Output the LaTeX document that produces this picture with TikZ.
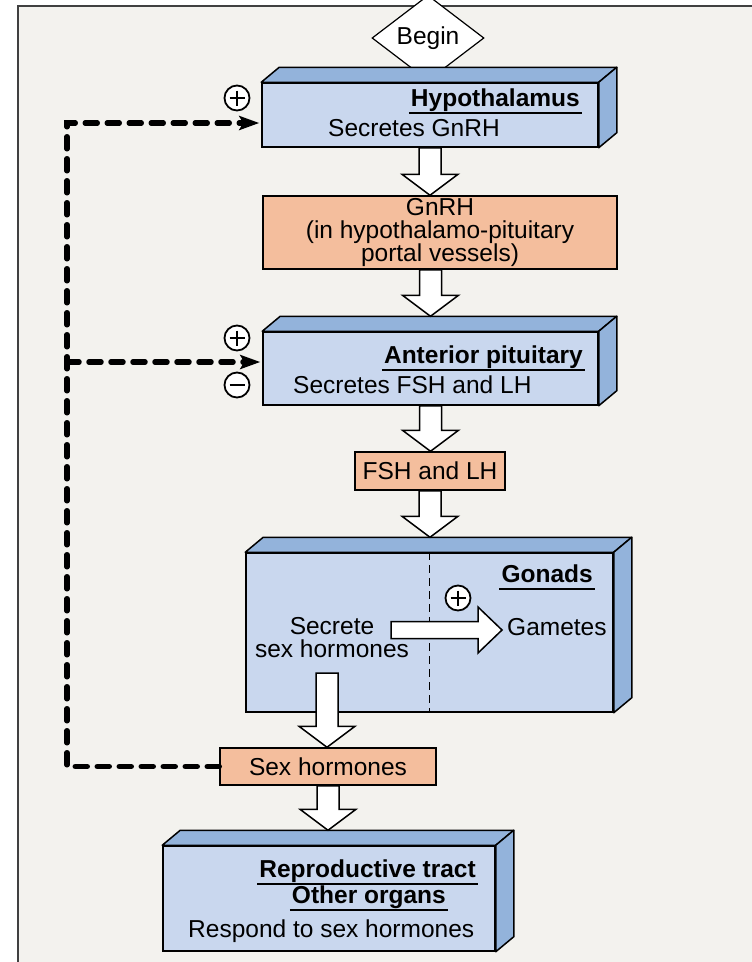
\documentclass[tikz,border=0pt]{standalone}
\usepackage{fontspec}
\setmainfont{Liberation Sans}
\usetikzlibrary{calc,shapes.geometric,arrows.meta}
\definecolor{paper}{HTML}{F3F2EE}
\definecolor{slabfront}{HTML}{C9D7EE}
\definecolor{slabside}{HTML}{93B3DB}
\definecolor{peach}{HTML}{F4BE9D}
\newcommand{\bodyfont}{\fontsize{24.5}{23}\selectfont}
\tikzset{ box_style/.style = { rectangle % front of a slab
        , draw
        , line width = 1.5pt
        , fill = slabfront
        , inner sep = 0pt
        }
        , face_style/.style = { draw % top and side of a slab
        , line width = 1.5pt
        , fill = slabside
        , line join = round
        }
        , hormone_style/.style = { rectangle % hormone on its way
        , draw
        , line width = 1.5pt
        , fill = peach
        , inner sep = 0pt
        , align = center
        }
        , title_style/.style = { font = \bodyfont\bfseries % underlined heading
        , anchor = base east
        , inner xsep = 2pt
        , inner ysep = 0pt
        , append after command = {([yshift=-7pt]\tikzlastnode.base west) edge[line width=1.5pt] ([yshift=-7pt]\tikzlastnode.base east)}
        }
        , plus_style/.style = { circle % stimulates
        , draw
        , line width = 1.8pt
        , fill = white
        , minimum size = 25pt
        , inner sep = 0pt
        , path picture = {\draw[line width=2.4pt] ($(path picture bounding box.west)+(5,0)$) -- ($(path picture bounding box.east)+(-5,0)$);
                          \draw[line width=2.4pt] ($(path picture bounding box.north)+(0,5)$) -- ($(path picture bounding box.south)+(0,-5)$);}
        }
        , minus_style/.style = { circle % inhibits
        , draw
        , line width = 1.8pt
        , fill = white
        , minimum size = 25pt
        , inner sep = 0pt
        , path picture = {\draw[line width=2.4pt] ($(path picture bounding box.west)+(5,0)$) -- ($(path picture bounding box.east)+(-5,0)$);}
        }
        }
% top and right faces of a slab
\newcommand{\slab}[1]{%
  \draw[face_style] (#1.north west) -- ++(18,-15) -- ($(#1.north east)+(18,-15)$) -- (#1.north east) -- cycle;
  \draw[face_style] (#1.north east) -- ++(18,-15) -- ($(#1.south east)+(18,-15)$) -- (#1.south east) -- cycle;}
% wide hollow arrows
\newcommand{\blockdown}[2]{%
  \draw[arrow_style] let \p1 = (#1), \p2 = (#2) in
    (\x1-11pt,\y1) -- (\x1-11pt,\y2+21pt) -- (\x1-28pt,\y2+21pt) -- (\x1,\y2)
    -- (\x1+28pt,\y2+21pt) -- (\x1+11pt,\y2+21pt) -- (\x1+11pt,\y1) -- cycle;}
\newcommand{\blockright}[2]{%
  \draw[arrow_style] let \p1 = (#1), \p2 = (#2) in
    (\x1,\y1+8.5pt) -- (\x2-24pt,\y1+8.5pt) -- (\x2-24pt,\y1+23pt) -- (\x2,\y1)
    -- (\x2-24pt,\y1-23pt) -- (\x2-24pt,\y1-8.5pt) -- (\x1,\y1-8.5pt) -- cycle;}

\begin{document}
\begin{tikzpicture}[x=1pt, y=-1pt, font=\bodyfont,
        arrow_style/.style={draw=black, line width=1.5pt, fill=white},
        feedback_style/.style={draw=black, line width=5.5pt, dash pattern=on 12pt off 10pt, line cap=round, -{Stealth[length=20pt,width=14pt,inset=4pt]}, shorten >=2pt},
        divider_style/.style={draw=black, line width=1.5pt, dash pattern=on 8pt off 5pt}]
        \useasboundingbox (0,0) rectangle (752,962);
        \fill[white] (0,0) rectangle (18,962);
        \fill[paper] (18,6) rectangle (752,962);
        \draw[line width=2pt, black!75] (18,962) -- (18,6) -- (752,6);

        \node [diamond, draw, line width=1.2pt, fill=white, inner sep=0pt, minimum width=112pt, minimum height=46pt](begin) at (428,38) {Begin};

        \node [box_style, minimum width=336pt, minimum height=64pt](hyp) at (430,115) {};
        \slab{hyp}
        \node [hormone_style, minimum width=354pt, minimum height=73pt](gnrh) at (440,232.5) {GnRH\\(in hypothalamo-pituitary\\portal vessels)};
        \node [box_style, minimum width=335pt, minimum height=73pt](ant) at (430.5,368.5) {};
        \slab{ant}
        \node [hormone_style, minimum width=150pt, minimum height=38pt](fsh) at (430,471) {FSH and LH};
        \node [box_style, minimum width=367pt, minimum height=159pt](gon) at (429.5,632.5) {};
        \slab{gon}
        \node [hormone_style, minimum width=216pt, minimum height=37pt](sexh) at (328,766.5) {Sex hormones};
        \node [box_style, minimum width=332pt, minimum height=105pt](tract) at (329,898.5) {};
        \slab{tract}

        % texts in the slabs
        \node [title_style](hyp_title) at (582,106) {Hypothalamus};
        \node [anchor=base west, inner sep=0pt](hyp_text) at (328,136) {Secretes GnRH};
        \node [title_style](ant_title) at (585,363) {Anterior pituitary};
        \node [anchor=base west, inner sep=0pt](ant_text) at (293,393) {Secretes FSH and LH};
        \node [title_style](gon_title) at (595,582) {Gonads};
        \node [align=center, inner sep=0pt](gon_text) at (332,638) {Secrete\\sex hormones};
        \node [anchor=base west, inner sep=0pt](gametes) at (507,635) {Gametes};
        \node [title_style](tract_title) at (478,877) {Reproductive tract};
        \node [title_style](organs_title) at (448,903) {Other organs};
        \node [anchor=base west, inner sep=0pt](tract_text) at (188,937) {Respond to sex hormones};

        \draw [divider_style] (gon.north) -- (gon.south);
        \coordinate (sec_out) at (391,630);
        \coordinate (gam_in) at (502,630);
        \coordinate (gon_out) at (327,673);
        \blockright{sec_out}{gam_in}
        \node [plus_style](gon_plus) at (458,598) {};

        \blockdown{hyp.south}{hyp.south |- gnrh.north}
        \blockdown{ant.north |- gnrh.south}{$(ant.north)+(0,-15)$}
        \blockdown{ant.south}{fsh.north}
        \blockdown{fsh.south}{$(gon.north)+(0,-15)$}
        \blockdown{gon_out}{sexh.north}
        \blockdown{sexh.south}{$(tract.north)+(0,-15)$}

        % feedback from the sex hormones
        \coordinate (fb_top) at (67,123);
        \coordinate (fb_mid) at (67,362);
        \draw [feedback_style] (sexh.west) -| (fb_top) -- (fb_top -| hyp.west);
        \draw [feedback_style] (fb_mid) -- (fb_mid -| ant.west);
        \node [plus_style](hyp_plus) at (237,98) {};
        \node [plus_style](ant_plus) at (237,338) {};
        \node [minus_style](ant_minus) at (237,385) {};
\end{tikzpicture}
\end{document}
